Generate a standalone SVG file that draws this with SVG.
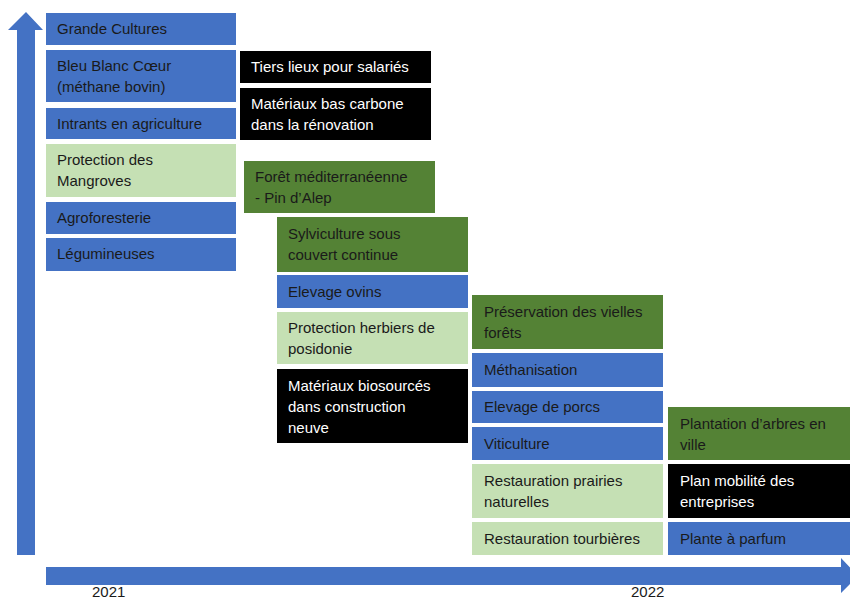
<svg xmlns="http://www.w3.org/2000/svg" width="850" height="601" viewBox="0 0 850 601">
<style>
text{font-family:"Liberation Sans",Arial,sans-serif;font-size:15px}
.b{fill:#4472C4}.lg{fill:#C5E0B4}.dg{fill:#548235}.k{fill:#000}
.dt{fill:#1a1a1a}.wt{fill:#fff}
.ax{fill:#4472C4}
</style>
<rect width="850" height="601" fill="#fff"/>
<g id="axes">
<polygon class="ax" points="17,555 35,555 35,30 43,30 26,12 8,30 17,30"/>
<polygon class="ax" points="46,567 841,567 841,558 858,576 841,593 841,585 46,585"/>
<text x="92" y="597" class="dt">2021</text>
<text x="631" y="597" class="dt">2022</text>
</g>
<g id="n1"><rect class="b" x="46" y="13" width="190" height="32"/><text class="dt" x="57" y="34">Grande Cultures</text></g>
<g id="n2"><rect class="b" x="46" y="50" width="190" height="52"/><text class="dt" x="57" y="71">Bleu Blanc Cœur</text><text class="dt" x="57" y="92">(méthane bovin)</text></g>
<g id="n3"><rect class="b" x="46" y="108" width="190" height="31"/><text class="dt" x="57" y="129">Intrants en agriculture</text></g>
<g id="n4"><rect class="lg" x="46" y="144" width="190" height="53"/><text class="dt" x="57" y="165">Protection des</text><text class="dt" x="57" y="186">Mangroves</text></g>
<g id="n5"><rect class="b" x="46" y="202" width="190" height="32"/><text class="dt" x="57" y="223">Agroforesterie</text></g>
<g id="n6"><rect class="b" x="46" y="238" width="190" height="33"/><text class="dt" x="57" y="259">Légumineuses</text></g>
<g id="n7"><rect class="k" x="240" y="51" width="191" height="32"/><text class="wt" x="251" y="72">Tiers lieux pour salariés</text></g>
<g id="n8"><rect class="k" x="240" y="88" width="191" height="52"/><text class="wt" x="251" y="109">Matériaux bas carbone</text><text class="wt" x="251" y="130">dans la rénovation</text></g>
<g id="n9"><rect class="dg" x="244" y="161" width="191" height="52"/><text class="dt" x="255" y="182">Forêt méditerranéenne</text><text class="dt" x="255" y="203">- Pin d’Alep</text></g>
<g id="n10"><rect class="dg" x="277" y="217" width="191" height="55"/><text class="dt" x="288" y="239">Sylviculture sous</text><text class="dt" x="288" y="260">couvert continue</text></g>
<g id="n11"><rect class="b" x="277" y="275" width="191" height="33"/><text class="dt" x="288" y="297">Elevage ovins</text></g>
<g id="n12"><rect class="lg" x="277" y="312" width="191" height="52"/><text class="dt" x="288" y="333">Protection herbiers de</text><text class="dt" x="288" y="354">posidonie</text></g>
<g id="n13"><rect class="k" x="277" y="369" width="191" height="74"/><text class="wt" x="288" y="391">Matériaux biosourcés</text><text class="wt" x="288" y="412">dans construction</text><text class="wt" x="288" y="433">neuve</text></g>
<g id="n14"><rect class="dg" x="472" y="295" width="191" height="54"/><text class="dt" x="484" y="317">Préservation des vielles</text><text class="dt" x="484" y="338">forêts</text></g>
<g id="n15"><rect class="b" x="472" y="353" width="191" height="34"/><text class="dt" x="484" y="375">Méthanisation</text></g>
<g id="n16"><rect class="b" x="472" y="391" width="191" height="32"/><text class="dt" x="484" y="412">Elevage de porcs</text></g>
<g id="n17"><rect class="b" x="472" y="427" width="191" height="33"/><text class="dt" x="484" y="449">Viticulture</text></g>
<g id="n18"><rect class="lg" x="472" y="464" width="191" height="54"/><text class="dt" x="484" y="486">Restauration prairies</text><text class="dt" x="484" y="507">naturelles</text></g>
<g id="n19"><rect class="lg" x="472" y="522" width="191" height="33"/><text class="dt" x="484" y="544">Restauration tourbières</text></g>
<g id="n20"><rect class="dg" x="668" y="407" width="182" height="53"/><text class="dt" x="680" y="429">Plantation d’arbres en</text><text class="dt" x="680" y="450">ville</text></g>
<g id="n21"><rect class="k" x="668" y="464" width="182" height="54"/><text class="wt" x="680" y="486">Plan mobilité des</text><text class="wt" x="680" y="507">entreprises</text></g>
<g id="n22"><rect class="b" x="668" y="522" width="182" height="33"/><text class="dt" x="680" y="544">Plante à parfum</text></g>
<g id="connectors"></g>
</svg>
